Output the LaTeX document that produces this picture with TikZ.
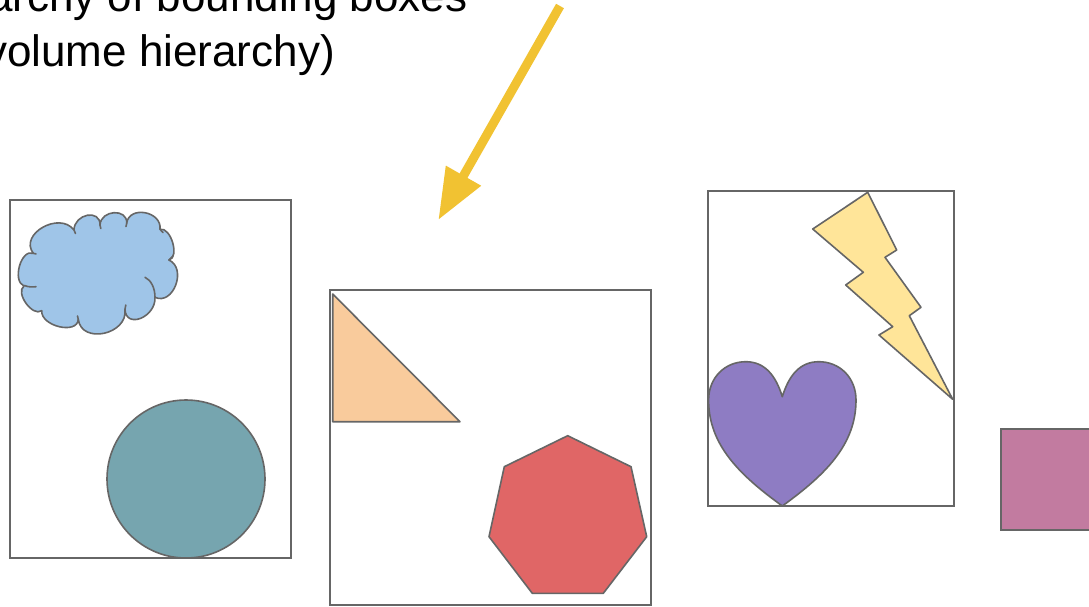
\documentclass[tikz,border=0pt]{standalone}
\usepackage{fontspec}
\setmainfont{Liberation Sans}
\usetikzlibrary{arrows.meta}
\definecolor{edgegray}{HTML}{666666}
\definecolor{cloudblue}{HTML}{9FC5E8}
\definecolor{teal}{HTML}{76A5AF}
\definecolor{peach}{HTML}{F9CB9C}
\definecolor{redshape}{HTML}{E06666}
\definecolor{boltyellow}{HTML}{FFE599}
\definecolor{heartpurple}{HTML}{8E7CC3}
\definecolor{pinkbox}{HTML}{C27BA0}
\definecolor{arrowyellow}{HTML}{F1C232}
\tikzset{
  bvbox/.style={draw=edgegray, line width=2pt},
  shapeline/.style={draw=edgegray, line width=1.6pt, line join=round},
  tick/.style={draw=edgegray, line width=1.6pt, line cap=round},
  labeltext/.style={inner sep=0pt, anchor=base east, text=black, font=\fontsize{44}{53}\selectfont},
  pointer/.style={draw=arrowyellow, line width=9pt, -{Triangle[length=51pt,width=38pt]}}
}
\begin{document}
\begin{tikzpicture}[x=1pt,y=-1pt]
\useasboundingbox (0,0) rectangle (1089,606);
\clip (0,0) rectangle (1089,606);
\fill[white] (0,0) rectangle (1089,606);

% title text (cut off at the left edge)
\node[labeltext] (line1) at (467.7,11.7) {archy of bounding boxes};
\node[labeltext] (line2) at (335,66) {volume hierarchy)};

% arrow
\coordinate (arrS) at (560,6);
\coordinate (arrE) at (438.3,220);
\draw[pointer] (arrS) -- (arrE);

% bounding boxes
\draw[bvbox] (10,200) rectangle (291,558);
\draw[bvbox] (330,290) rectangle (651,605);
\draw[bvbox] (708.3,191) rectangle (954,506);
\draw[bvbox, fill=pinkbox] (1001,429) rectangle (1100,530);

% cloud
\draw[shapeline, fill=cloudblue]
  (33.3,253.3) .. controls (21.1,248.4) and (11.8,281.1) .. (24,286)
  .. controls (14.9,292.6) and (32.6,317.3) .. (41.7,310.7)
  .. controls (40.8,326.3) and (77.4,334.9) .. (78.3,319.3)
  .. controls (81.4,344.6) and (128.1,334.6) .. (125,309.3)
  .. controls (125.9,329.3) and (155.9,317.3) .. (155,297.3)
  .. controls (173.3,305.8) and (187.3,268.5) .. (169,260)
  .. controls (179.9,257.4) and (170.9,226.7) .. (160,229.3)
  .. controls (162.2,211.2) and (128.9,205.2) .. (126.7,223.3)
  .. controls (127.6,208) and (100.9,209.7) .. (100,225)
  .. controls (100.4,208.7) and (74.4,213.7) .. (74,230)
  .. controls (59.4,210.9) and (18.7,234.2) .. cycle;
\draw[tick] (145,277.3) .. controls (151,280) and (155,288) .. (155,297.3);
\draw[tick] (24.5,285.5) .. controls (28,287) and (32,287.2) .. (36,286.7);
\draw[tick] (33.3,253.3) -- (36,253.9);
\draw[tick] (125,309.3) -- (125.8,305);
\draw[tick] (169,260) -- (173,256);
\draw[tick] (160,229.3) -- (163,232.5);
\draw[tick] (126.7,223.3) -- (126,226.5);
\draw[tick] (100,225) -- (100.8,228.5);
\draw[tick] (74,230) -- (75.5,233.5);
\draw[tick] (78.3,319.3) -- (77.5,316);

% circle
\draw[shapeline, fill=teal] (186,479) circle[radius=79];

% right triangle
\draw[shapeline, fill=peach] (332.7,294) -- (332.7,421.7) -- (460,421.7) -- cycle;

% heptagon
\draw[shapeline, fill=redshape] (567.7,435.7) -- (631,466.7) -- (646.7,536.7)
  -- (603.3,593.3) -- (532.3,593.3) -- (489,536.7) -- (504.3,466.7) -- cycle;

% lightning bolt
\draw[shapeline, fill=boltyellow] (867.7,192.3) -- (896.7,250) -- (885,257.3)
  -- (921,307.3) -- (909.3,315.7) -- (952.7,399.3) -- (879,335) -- (892.7,326.7)
  -- (845.7,285) -- (863.3,272.3) -- (812.7,229) -- cycle;

% heart
\draw[shapeline, fill=heartpurple] (782.3,396.7)
  .. controls (789,375) and (800,362) .. (818.3,361.7)
  .. controls (840,361.5) and (856,378) .. (856,400)
  .. controls (856,445) and (825,475) .. (782.3,506)
  .. controls (739.6,475) and (708.6,445) .. (708.6,400)
  .. controls (708.6,378) and (724.6,361.5) .. (746.3,361.7)
  .. controls (764.6,362) and (775.6,375) .. cycle;
\end{tikzpicture}
\end{document}
